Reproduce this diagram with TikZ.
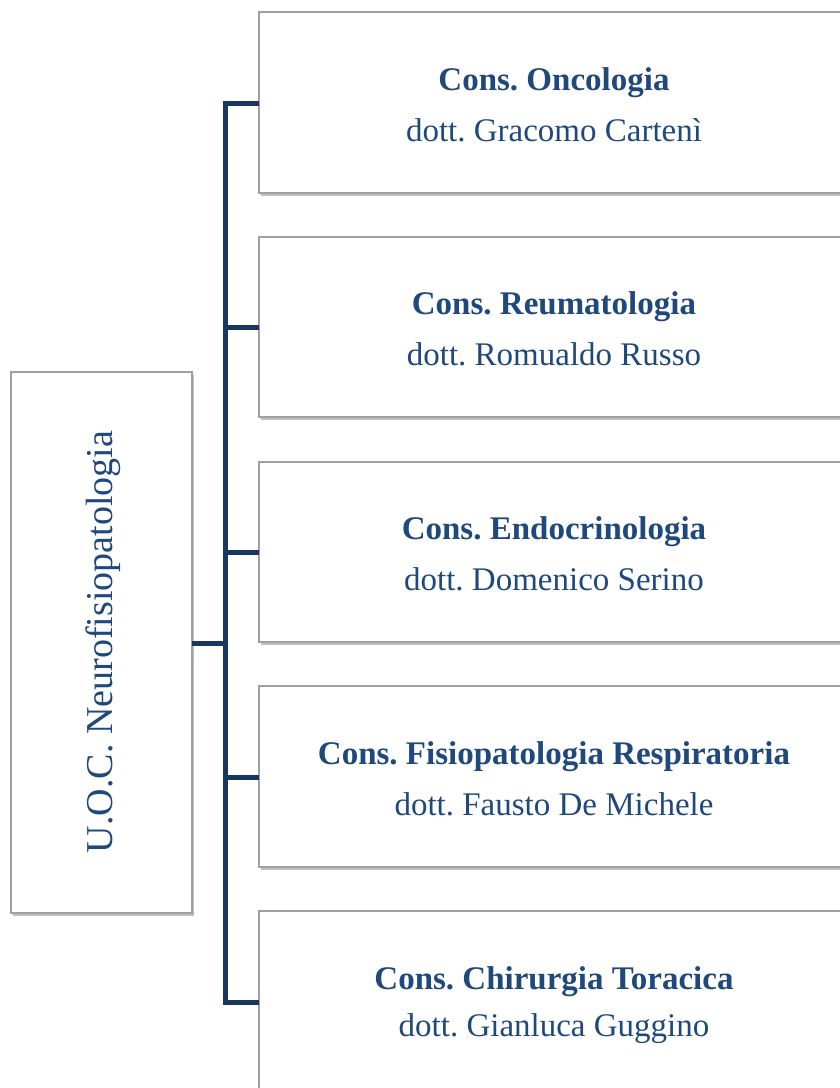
\documentclass[tikz,border=0pt]{standalone}
\usepackage{fontspec}
\setmainfont{Liberation Serif}
\usetikzlibrary{shadows}
\definecolor{txtblue}{HTML}{1F497D}
\definecolor{linkblue}{HTML}{17375E}
\definecolor{boxgray}{HTML}{A0A0A0}
\begin{document}
\frenchspacing
\begin{tikzpicture}[x=1pt,y=-1pt,
  box/.style={draw=boxgray, line width=1.3pt, fill=white,
    drop shadow={shadow xshift=2pt, shadow yshift=-3pt, opacity=0.25, fill=black}},
  link/.style={draw=linkblue, line width=5pt},
  ttl/.style={text=txtblue, font=\fontsize{33}{40}\selectfont\bfseries},
  nme/.style={text=txtblue, font=\fontsize{33}{40}\selectfont}]
\useasboundingbox (0,0) rectangle (840,1088);
\begin{scope}
\clip (0,0) rectangle (840,1088);
% left box
\path[box] (11,372) rectangle (192,913);
\node[rotate=90, text=txtblue, font=\fontsize{38}{44}\selectfont] (root) at (103,642) {U.O.C. Neurofisiopatologia};
\coordinate (rootE) at (192,643);
% right boxes
\foreach \i/\t/\b in {1/12/193, 2/237/417, 3/462/642, 4/686/867, 5/911/1120}{
  \path[box] (259,\t) rectangle (860,\b);
}
\coordinate (bus) at (225,643);
\coordinate (b1) at (259,103);
\coordinate (b2) at (259,327);
\coordinate (b3) at (259,552);
\coordinate (b4) at (259,777);
\coordinate (b5) at (259,1002);
\draw[link] (rootE) -- (bus);
\draw[link] (b1) -- (222.5,103);
\draw[link] (225,100.5) -- (225,1004.5);
\draw[link] (222.5,1002) -- (b5);
\draw[link] (225,327) -- (b2);
\draw[link] (225,552) -- (b3);
\draw[link] (225,777) -- (b4);
% texts
\node[ttl] (t1) at (554,83) {Cons. Oncologia};
\node[nme] (n1) at (554,130) {dott. Gracomo Cartenì};
\node[ttl] (t2) at (554,307) {Cons. Reumatologia};
\node[nme] (n2) at (554,354) {dott. Romualdo Russo};
\node[ttl] (t3) at (554,532) {Cons. Endocrinologia};
\node[nme] (n3) at (554,579) {dott. Domenico Serino};
\node[ttl] (t4) at (554,757) {Cons. Fisiopatologia Respiratoria};
\node[nme] (n4) at (554,804) {dott. Fausto De Michele};
\node[ttl] (t5) at (554,982) {Cons. Chirurgia Toracica};
\node[nme] (n5) at (554,1029) {dott. Gianluca Guggino};
\end{scope}
\end{tikzpicture}
\end{document}
